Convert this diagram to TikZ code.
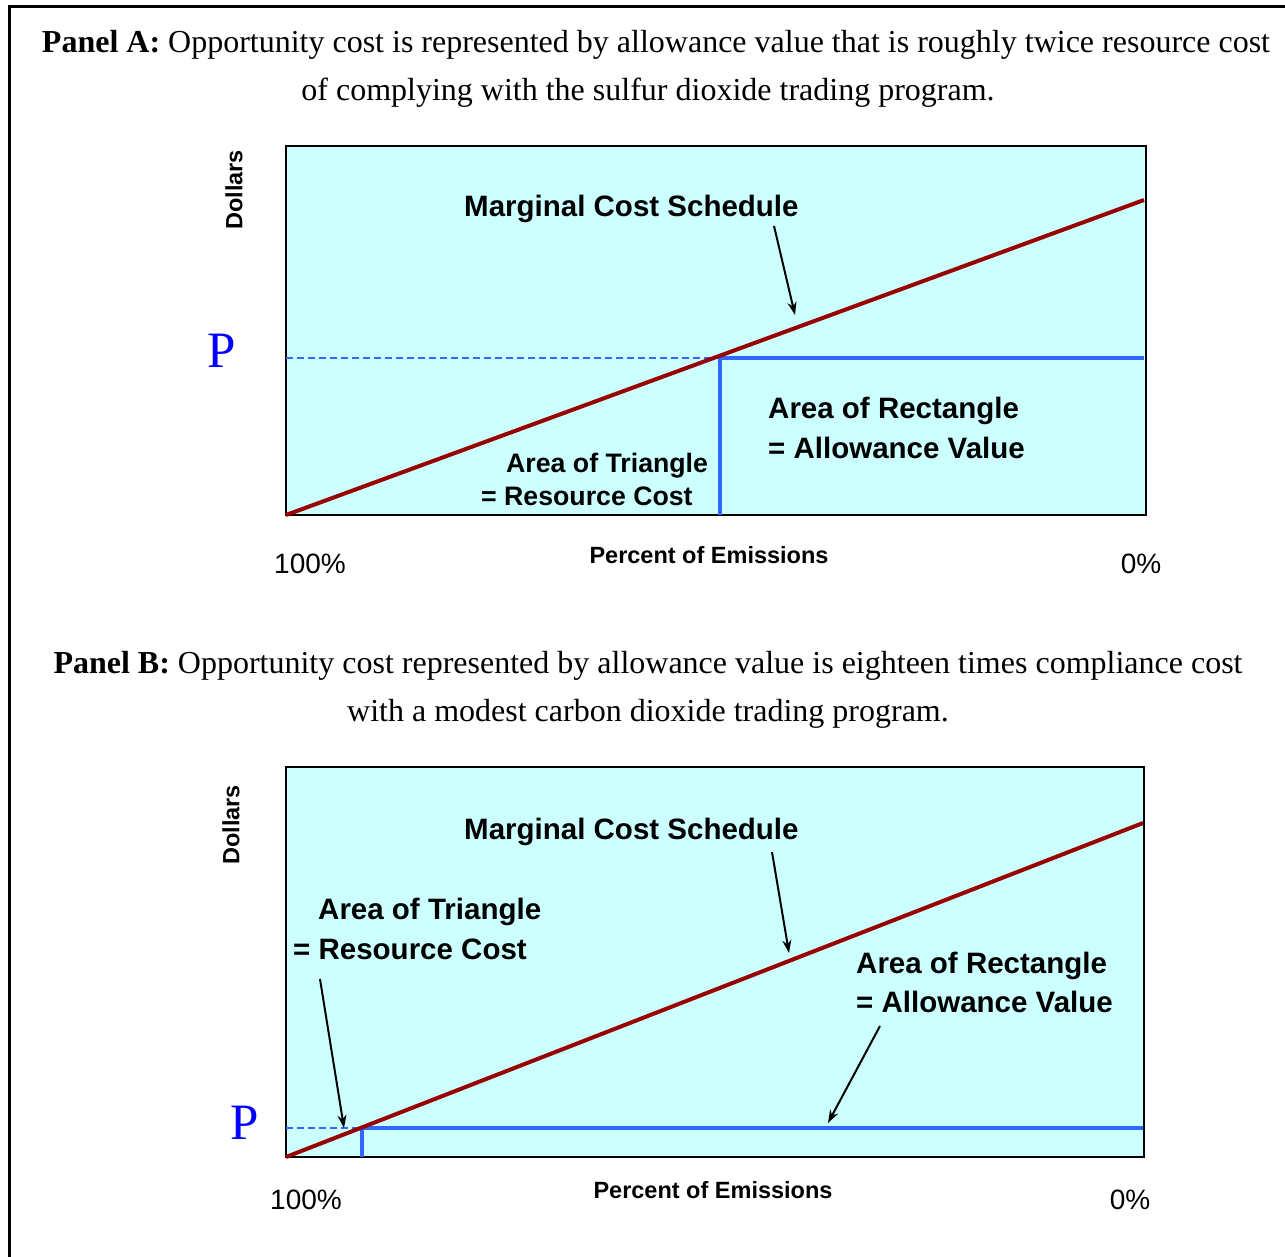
\documentclass[tikz,border=0pt]{standalone}
\usepackage{fontspec}
\setmainfont{Liberation Serif}
\setsansfont{Liberation Sans}
\usetikzlibrary{arrows.meta}
\definecolor{plotfill}{HTML}{CCFFFF}
\definecolor{mcred}{HTML}{990000}
\definecolor{pblue}{HTML}{3366FF}
\definecolor{letterblue}{HTML}{0000FF}
\begin{document}
\begin{tikzpicture}[x=1pt,y=-1pt,
  titletext/.style={font=\fontsize{32}{38}\selectfont, inner sep=0pt, anchor=base},
  biglabel/.style={font=\sffamily\bfseries\fontsize{29.5}{34}\selectfont, inner sep=0pt, anchor=base west},
  midlabel/.style={font=\sffamily\bfseries\fontsize{26.7}{30}\selectfont, inner sep=0pt, anchor=base west},
  axislabel/.style={font=\sffamily\bfseries\fontsize{23.5}{27}\selectfont, inner sep=0pt, anchor=base},
  ticklabel/.style={font=\sffamily\fontsize{28}{32}\selectfont, inner sep=0pt, anchor=base},
  plabel/.style={font=\fontsize{51}{55}\selectfont, text=letterblue, inner sep=0pt, anchor=base},
  ylabel/.style={font=\sffamily\bfseries\fontsize{23.5}{27}\selectfont, inner sep=0pt, rotate=90},
  plotbox/.style={fill=plotfill, draw=black, line width=2.5pt},
  mcline/.style={draw=mcred, line width=4pt},
  priceline/.style={draw=pblue, line width=3.5pt},
  pricedash/.style={draw=pblue, line width=1.5pt, dash pattern=on 7pt off 4pt},
  pointer/.style={draw=black, line width=2pt, -{Stealth[length=13pt,width=9pt]}}
]
\clip (0,0) rectangle (1285,1257);
% outer frame
\draw[line width=3pt] (9,1300) -- (9,7) -- (1300,7);

% ---------------- Panel A ----------------
\node[titletext] (tA1) at (656,53) {\textbf{Panel A:} Opportunity cost is represented by allowance value that is roughly twice resource cost};
\node[titletext] (tA2) at (648,101) {of complying with the sulfur dioxide trading program.};

\draw[plotbox] (286,146) rectangle (1146,515);
\coordinate (A0) at (286,515);
\coordinate (A1) at (1144,200);
\coordinate (AP0) at (286,358);
\coordinate (APq) at (720,358);
\coordinate (APq0) at (720,515);
\coordinate (AP1) at (1144,358);
\draw[pricedash] (AP0) -- (APq);
\draw[priceline] (APq0) -- (APq) -- (AP1);
\draw[mcline] (A0) -- (A1);

\node[biglabel] (mcsA) at (464,217) {Marginal Cost Schedule};
\coordinate (mcsAfrom) at (774,226);
\coordinate (mcsAto) at (795,315);
\draw[pointer] (mcsAfrom) -- (mcsAto);

\node[biglabel] (rectA1) at (768,418) {Area of Rectangle};
\node[biglabel] (rectA2) at (768,458) {= Allowance Value};
\node[midlabel] (triA1) at (506,472) {Area of Triangle};
\node[midlabel] (triA2) at (481,505) {= Resource Cost};

\node[ylabel] (dolA) at (234,190) {Dollars};
\node[plabel] (pA) at (222,367) {P};
\node[ticklabel] (hundA) at (310,573) {100\%};
\node[ticklabel] (zeroA) at (1141,573) {0\%};
\node[axislabel] (pctA) at (709,563) {Percent of Emissions};

% ---------------- Panel B ----------------
\node[titletext] (tB1) at (648,673) {\textbf{Panel B:} Opportunity cost represented by allowance value is eighteen times compliance cost};
\node[titletext] (tB2) at (648,721) {with a modest carbon dioxide trading program.};

\draw[plotbox] (286,767) rectangle (1144,1157);
\coordinate (B0) at (286,1157);
\coordinate (B1) at (1143,823);
\coordinate (BP0) at (286,1128);
\coordinate (BPq) at (362,1128);
\coordinate (BPq0) at (362,1157);
\coordinate (BP1) at (1143,1128);
\draw[pricedash] (BP0) -- (BPq);
\draw[priceline] (BPq0) -- (BPq) -- (BP1);
\draw[mcline] (B0) -- (B1);

\node[biglabel] (mcsB) at (464,839) {Marginal Cost Schedule};
\coordinate (mcsBfrom) at (772,852);
\coordinate (mcsBto) at (789,953);
\draw[pointer] (mcsBfrom) -- (mcsBto);

\node[biglabel] (triB1) at (318,919) {Area of Triangle};
\node[biglabel] (triB2) at (293,959) {= Resource Cost};
\coordinate (triBfrom) at (320,979);
\coordinate (triBto) at (344,1128);
\draw[pointer] (triBfrom) -- (triBto);

\node[biglabel] (rectB1) at (856,973) {Area of Rectangle};
\node[biglabel] (rectB2) at (856,1012) {= Allowance Value};
\coordinate (rectBfrom) at (880,1026);
\coordinate (rectBto) at (828,1123);
\draw[pointer] (rectBfrom) -- (rectBto);

\node[ylabel] (dolB) at (231,825) {Dollars};
\node[plabel] (pB) at (245,1139) {P};
\node[ticklabel] (hundB) at (306,1209) {100\%};
\node[ticklabel] (zeroB) at (1130,1209) {0\%};
\node[axislabel] (pctB) at (713,1198) {Percent of Emissions};
\end{tikzpicture}
\end{document}
